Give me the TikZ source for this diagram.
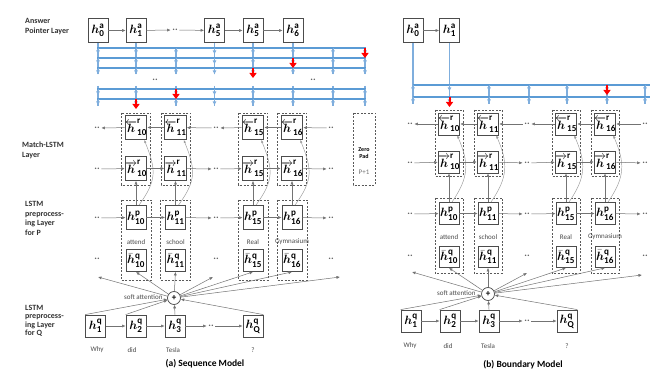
\documentclass[tikz,border=0pt]{standalone}
\usepackage{fontspec}
\setmainfont{Carlito}
\usepackage{bm}
\usetikzlibrary{arrows.meta}
\definecolor{busblue}{HTML}{5B9BD5}
\definecolor{dropblue}{HTML}{7FAEDD}
\definecolor{ptrred}{HTML}{FF0000}
% hidden-state labels
\newcommand\hcell[2]{$\bm{h}^{\mathbf{#1}}_{\mathbf{#2}}$}
\newcommand\hleftst[2]{$\overleftarrow{\bm{h}}^{\mathbf{#1}}_{\mathbf{#2}}$}
\newcommand\hrightst[2]{$\overrightarrow{\bm{h}}^{\mathbf{#1}}_{\mathbf{#2}}$}
\newcommand\hbarst[2]{$\bar{\bm{h}}^{\mathbf{#1}}_{\mathbf{#2}}$}
\begin{document}
\begin{tikzpicture}[x=1pt,y=-1pt,
  cell/.style={draw=black!70, line width=0.8pt, fill=white, minimum width=20pt, minimum height=24pt, inner sep=0pt, font=\fontsize{13}{13}\selectfont},
  qcell/.style={cell, minimum height=22pt},
  grp/.style={draw=black!65, dash pattern=on 2pt off 1.5pt, line width=0.5pt},
  flow/.style={draw=black!55, line width=0.5pt, -{Latex[length=3.5pt,width=3pt]}},
  curvy/.style={draw=black!40, line width=0.45pt, -{Latex[length=3pt,width=2.5pt]}},
  dots/.style={font=\bfseries\fontsize{10}{10}\selectfont, text=black!60, inner sep=1.5pt},
  bus/.style={draw=busblue, line width=2pt},
  drop/.style={draw=dropblue, line width=1.3pt},
  tip/.style={draw=dropblue, line width=1pt, -{Latex[length=4pt,width=4pt]}},
  ptr/.style={draw=ptrred, line width=2pt, -{Triangle[length=5pt,width=7pt]}},
  layerlbl/.style={font=\bfseries\fontsize{8}{9.7}\selectfont, text=black!80, align=left, anchor=north west, inner sep=0pt},
  word/.style={font=\fontsize{7}{7}\selectfont, text=black!70},
  caption/.style={font=\bfseries\fontsize{9.5}{9.5}\selectfont},
  sa/.style={circle, draw=black!70, line width=0.7pt, fill=white, minimum size=13pt, inner sep=0pt, font=\bfseries\fontsize{9}{9}\selectfont}
]
\useasboundingbox[fill=white] (0,0) rectangle (650,371);

% ================= (a) Sequence Model =================
\node[layerlbl] (labA) at (25,18) {Answer\\Pointer Layer};
\node[layerlbl] (labM) at (22,142) {Match-LSTM\\Layer};
\node[layerlbl] (labP) at (25,201) {LSTM\\preprocess-\\ing Layer\\for P};
\node[layerlbl, font=\bfseries\fontsize{8}{8.5}\selectfont] (labQ) at (25,305) {LSTM\\preprocess-\\ing Layer\\for Q};

% answer pointer states
\foreach \x/\n/\s in {98/a0/0,136/a1/1,214.5/a4/5,253/a5/5,293/a6/6}
  \node[cell] (\n) at (\x,30.5) {\hcell{a}{\s}};
\node[dots] (ad) at (175,30) {..};
\draw[flow] (a0) -- (a1);
\draw[flow] (a1) -- (ad);
\draw[flow] (ad) -- (a4);
\draw[flow] (a4) -- (a5);
\draw[flow] (a5) -- (a6);

% pointer buses
\foreach \n in {a0,a1,a4,a5,a6} \draw[drop] (\n.south) -- ++(0,31);
\foreach \x in {176,333,365} \draw[drop] (\x,48) -- (\x,74);
\foreach \x in {98,136,176,214.5,253,293,333,365} \draw[drop] (\x,86) -- (\x,106);
\foreach \y in {48,58,68,89,99} \draw[bus] (97,\y) -- (366,\y);
\foreach \x in {98,136,176,214.5,253,293,333,365}
  \foreach \y in {48,58,68,89,99} \draw[tip] (\x,\y+0.5) -- (\x,\y+6.5);
\foreach \x/\y in {365/48,293/58,253/68,176/89,136/99} \draw[ptr] (\x,\y) -- (\x,\y+10);
\node[dots] (bd1) at (155,80) {..};
\node[dots] (bd2) at (313,80) {..};

% match-LSTM and preprocessing columns
\foreach \x/\i/\w in {136/10/attend,175.5/11/school,253/15/Real,292/16/Gymnasium} {
  \draw[grp] (\x-14.5,113) rectangle (\x+14.5,185);
  \draw[grp] (\x-15,200) rectangle (\x+15,280);
  \node[cell] (Lb\i) at (\x,127.5) {\hleftst{r}{\i}};
  \node[cell] (Lf\i) at (\x,168.5) {\hrightst{r}{\i}};
  \node[cell] (Lp\i) at (\x,217.5) {\hcell{p}{\i}};
  \node[qcell] (Lq\i) at (\x,260.5) {\hbarst{q}{\i}};
  \node[word] (Lw\i) at (\x,242) {\w};
  \draw[flow] (Lp\i.north) -- (Lf\i.south);
  \draw[curvy] ([xshift=3pt]Lp\i.north) .. controls +(18,-25) and +(12,30) .. ([xshift=-3pt]Lb\i.south east);
}
\foreach \r/\y in {b/128,f/169,p/218,q/259} {
  \node[dots] (L\r l) at (97,\y) {..};
  \node[dots] (L\r m) at (216,\y) {..};
  \node[dots] (L\r r) at (331,\y) {..};
}
% backward direction
\draw[flow] (Lb10) -- (Lbl);
\draw[flow] (Lb11) -- (Lb10);
\draw[flow] (Lbm) -- (Lb11);
\draw[flow] (Lb15) -- (Lbm);
\draw[flow] (Lb16) -- (Lb15);
\draw[flow] (Lbr) -- (Lb16);
% forward directions
\foreach \r in {f,p} {
  \draw[flow] (L\r l) -- (L\r 10);
  \draw[flow] (L\r 10) -- (L\r 11);
  \draw[flow] (L\r 11) -- (L\r m);
  \draw[flow] (L\r m) -- (L\r 15);
  \draw[flow] (L\r 15) -- (L\r 16);
  \draw[flow] (L\r 16) -- (L\r r);
}
% zero padding
\draw[grp] (353,113) rectangle (375,185);
\node[font=\bfseries\fontsize{6}{7}\selectfont, align=center] (zp) at (364,153.5) {Zero\\Pad};
\node[word, text=black!55] (zpn) at (364,172) {P+1};

% soft attention
\node[sa] (Lsa) at (174,298) {+};
\node[word, anchor=east] (Lsal) at (166,297.5) {soft attention};
\coordinate (Lt1) at (98,277);
\coordinate (Lt4) at (213,277);
\coordinate (Lt7) at (340,277);
\foreach \t in {Lt1,Lq10.south,Lq11.south,Lt4,Lq15.south,Lq16.south,Lt7}
  \draw[flow] (Lsa) -- (\t);

% question encoding
\foreach \x/\n/\s in {95.5/Lh1/1,136/Lh2/2,175/Lh3/3,253/LhQ/Q}
  \node[qcell] (\n) at (\x,326) {\hcell{q}{\s}};
\node[dots] (Lhd) at (211,326) {..};
\draw[flow] (Lh1) -- (Lh2);
\draw[flow] (Lh2) -- (Lh3);
\draw[flow] (Lh3) -- (Lhd);
\draw[flow] (Lhd) -- (LhQ);
\draw[flow] (Lh1.north west) -- (Lsa);
\draw[flow] (Lh2.north west) -- (Lsa);
\draw[flow] (Lh3.north) -- (Lsa);
\draw[flow] (LhQ.north east) -- (Lsa);
\foreach \x/\w in {97/Why,132/did,173/Tesla,253/?}
  \node[word] at (\x,350) {\w};
\node[caption] (capA) at (205,364) {(a) Sequence Model};

% ================= (b) Boundary Model =================
\node[cell] (b0) at (413,30.5) {\hcell{a}{0}};
\node[cell] (b1) at (449.5,30.5) {\hcell{a}{1}};
\draw[flow] (b0) -- (b1);
\draw[drop] (b0.south) -- (413,104);
\draw[drop] (b1.south) -- (449.5,104);
\foreach \x in {489,529,567,607,645} \draw[drop] (\x,85) -- (\x,104);
\foreach \y in {85,97} \draw[bus] (413,\y) -- (650,\y);
\foreach \x in {413,449.5,489,529,567,607,645}
  \foreach \y in {85,97} \draw[tip] (\x,\y+0.5) -- (\x,\y+6.5);
\draw[ptr] (607,85) -- (607,95);
\draw[ptr] (449.5,97) -- (449.5,107);

\foreach \x/\i/\w in {449/10/attend,488/11/school,566/15/Real,605/16/Gymnasium} {
  \draw[grp] (\x-14,110) rectangle (\x+14,176);
  \draw[grp] (\x-14,198) rectangle (\x+14,273);
  \node[cell, minimum height=22pt] (Rb\i) at (\x,124) {\hleftst{r}{\i}};
  \node[cell, minimum height=22pt] (Rf\i) at (\x,162) {\hrightst{r}{\i}};
  \node[cell, minimum height=22pt] (Rp\i) at (\x,213.5) {\hcell{p}{\i}};
  \node[qcell, minimum height=21pt] (Rq\i) at (\x,257) {\hbarst{q}{\i}};
  \node[word] (Rw\i) at (\x,237) {\w};
  \draw[flow] (Rp\i.north) -- (Rf\i.south);
  \draw[curvy] ([xshift=3pt]Rp\i.north) .. controls +(17,-25) and +(12,28) .. ([xshift=-3pt]Rb\i.south east);
}
\foreach \r/\y in {b/124,f/163,p/214,q/256} {
  \node[dots] (R\r l) at (410,\y) {..};
  \node[dots] (R\r m) at (527,\y) {..};
  \node[dots] (R\r r) at (645,\y) {..};
}
\draw[flow] (Rb10) -- (Rbl);
\draw[flow] (Rb11) -- (Rb10);
\draw[flow] (Rbm) -- (Rb11);
\draw[flow] (Rb15) -- (Rbm);
\draw[flow] (Rb16) -- (Rb15);
\draw[flow] (Rbr) -- (Rb16);
\foreach \r in {f,p} {
  \draw[flow] (R\r l) -- (R\r 10);
  \draw[flow] (R\r 10) -- (R\r 11);
  \draw[flow] (R\r 11) -- (R\r m);
  \draw[flow] (R\r m) -- (R\r 15);
  \draw[flow] (R\r 15) -- (R\r 16);
  \draw[flow] (R\r 16) -- (R\r r);
}

\node[sa] (Rsa) at (488,294) {+};
\node[word, anchor=east] (Rsal) at (479,293.5) {soft attention};
\coordinate (Rt1) at (412,272);
\coordinate (Rt4) at (527,273);
\coordinate (Rt7) at (642,275);
\foreach \t in {Rt1,Rq10.south,Rq11.south,Rt4,Rq15.south,Rq16.south,Rt7}
  \draw[flow] (Rsa) -- (\t);

\foreach \x/\n/\s in {411/Rh1/1,450/Rh2/2,489/Rh3/3,567/RhQ/Q}
  \node[qcell] (\n) at (\x,321) {\hcell{q}{\s}};
\node[dots] (Rhd) at (527,321) {..};
\draw[flow] (Rh1) -- (Rh2);
\draw[flow] (Rh2) -- (Rh3);
\draw[flow] (Rh3) -- (Rhd);
\draw[flow] (Rhd) -- (RhQ);
\draw[flow] (Rh1.north west) -- (Rsa);
\draw[flow] (Rh2.north west) -- (Rsa);
\draw[flow] (Rh3.north) -- (Rsa);
\draw[flow] (RhQ.north east) -- (Rsa);
\foreach \x/\w in {410/Why,448/did,488/Tesla,567/?}
  \node[word] at (\x,346) {\w};
\node[caption] (capB) at (523,365) {(b) Boundary Model};
\end{tikzpicture}
\end{document}
